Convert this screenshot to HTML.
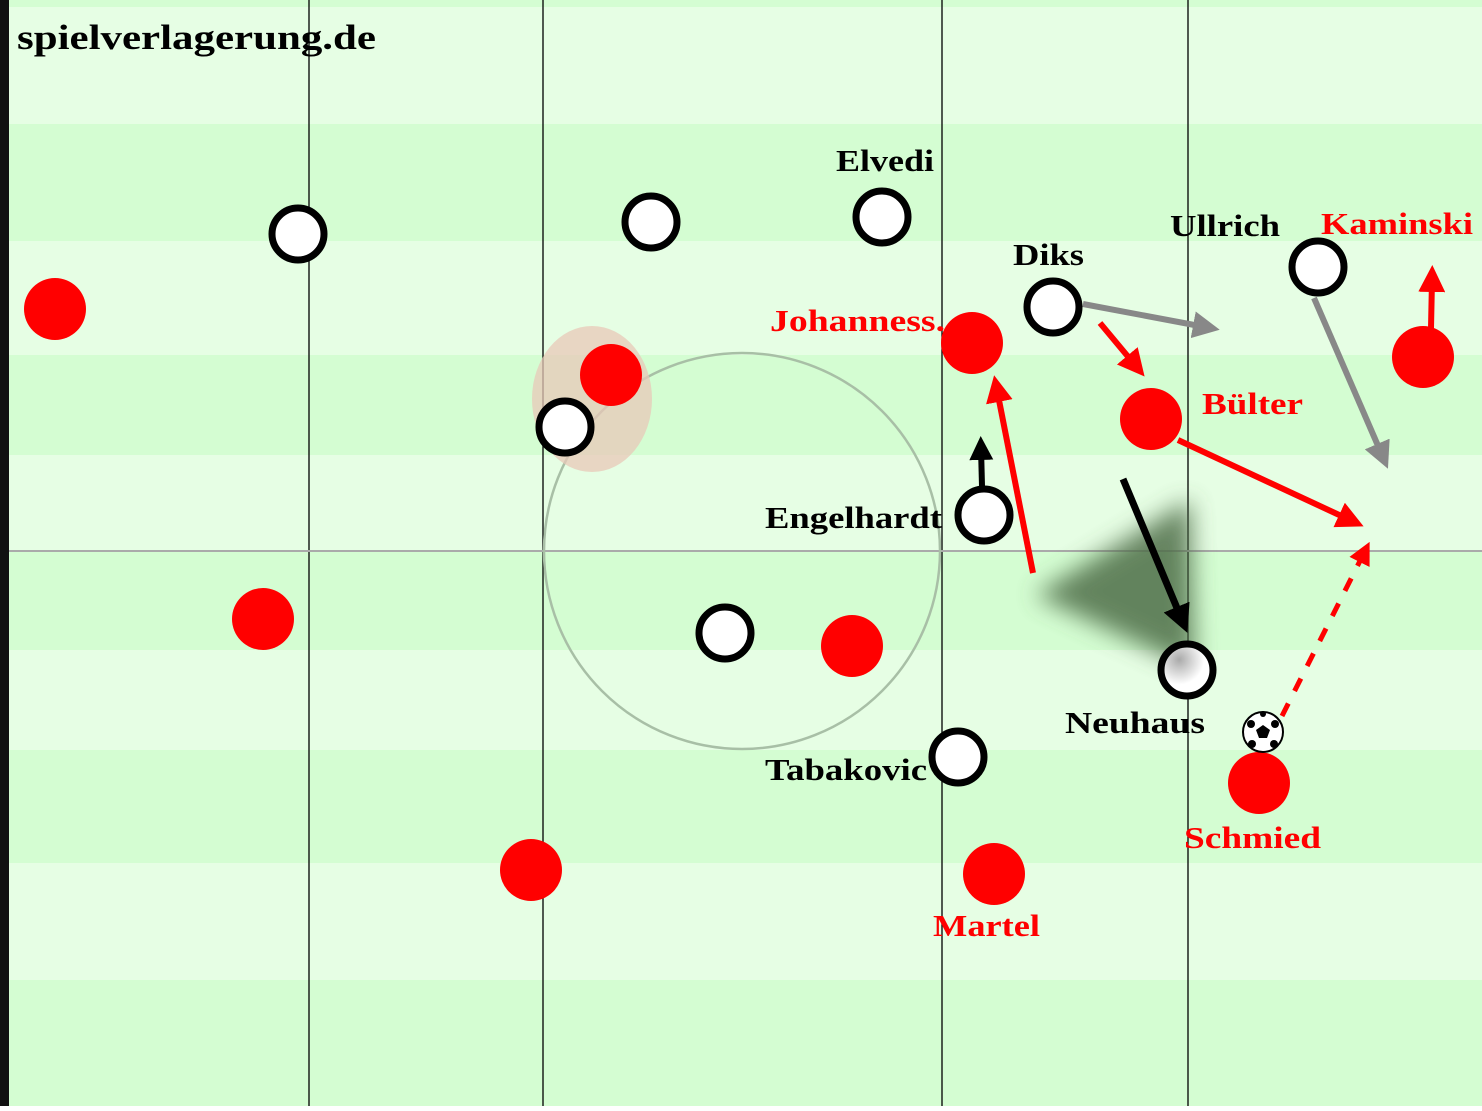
<!DOCTYPE html>
<html><head><meta charset="utf-8"><style>
html,body{margin:0;padding:0}
body{width:1482px;height:1106px;overflow:hidden}
svg text{font-family:"Liberation Serif",serif;font-weight:bold}
</style></head><body>
<svg width="1482" height="1106" viewBox="0 0 1482 1106" xmlns="http://www.w3.org/2000/svg">
<defs>
<filter id="bl" x="-50%" y="-50%" width="200%" height="200%"><feGaussianBlur stdDeviation="12"/></filter>
<radialGradient id="g" cx="0.35" cy="0.3" r="0.8"><stop offset="0" stop-color="#aaa"/><stop offset="0.6" stop-color="#fff"/></radialGradient>
<marker id="ar" markerWidth="4.5" markerHeight="4.5" refX="2" refY="2.25" orient="auto" markerUnits="strokeWidth"><path d="M0,0 L4.5,2.25 L0,4.5 z" fill="red"/></marker>
<marker id="ak" markerWidth="4" markerHeight="4" refX="2" refY="2" orient="auto" markerUnits="strokeWidth"><path d="M0,0 L4,2 L0,4 z" fill="#000"/></marker>
<marker id="ag" markerWidth="4.5" markerHeight="4.5" refX="2" refY="2.25" orient="auto" markerUnits="strokeWidth"><path d="M0,0 L4.5,2.25 L0,4.5 z" fill="#888"/></marker>
</defs>
<rect width="1482" height="1106" fill="#d4fdd2"/>
<g fill="#e6fee4">
<rect y="7" width="1482" height="117"/><rect y="241" width="1482" height="114"/>
<rect y="455" width="1482" height="96"/><rect y="650" width="1482" height="100"/>
<rect y="863" width="1482" height="117"/>
</g>
<rect x="0" y="0" width="9" height="1106" fill="#111"/>
<g stroke="#000" stroke-width="1.3">
<line x1="309" y1="0" x2="309" y2="1106"/><line x1="543" y1="0" x2="543" y2="1106"/>
<line x1="942" y1="0" x2="942" y2="1106"/><line x1="1188" y1="0" x2="1188" y2="1106"/>
</g>
<line x1="9" y1="551" x2="1482" y2="551" stroke="#aaa" stroke-width="2"/>
<circle cx="742" cy="551" r="198" fill="none" stroke="#a8bfa6" stroke-width="2.5"/>
<ellipse cx="592" cy="399" rx="60" ry="73" fill="#e8c8b8" opacity="0.75"/>
<polygon points="1035,595 1190,500 1195,670" fill="#4f6e49" opacity="0.85" filter="url(#bl)"/>
<g fill="#f00">
<circle cx="55" cy="309" r="31"/><circle cx="611" cy="375" r="31"/><circle cx="972" cy="343" r="31"/>
<circle cx="1151" cy="419" r="31"/><circle cx="1423" cy="357" r="31"/><circle cx="263" cy="619" r="31"/>
<circle cx="852" cy="646" r="31"/><circle cx="1259" cy="783" r="31"/><circle cx="531" cy="870" r="31"/>
<circle cx="994" cy="874" r="31"/>
</g>
<g stroke-linecap="butt" fill="none">
<line x1="1033" y1="573" x2="997" y2="390" stroke="red" stroke-width="6" marker-end="url(#ar)"/>
<line x1="1100" y1="323" x2="1135" y2="365" stroke="red" stroke-width="6" marker-end="url(#ar)"/>
<line x1="1178" y1="440" x2="1350" y2="520" stroke="red" stroke-width="6" marker-end="url(#ar)"/>
<line x1="1431" y1="328" x2="1432" y2="280" stroke="red" stroke-width="6" marker-end="url(#ar)"/>
<line x1="1282" y1="716" x2="1364" y2="553" stroke="red" stroke-width="5" stroke-dasharray="14,14" marker-end="url(#ar)"/>
<line x1="1083" y1="304" x2="1205" y2="327" stroke="#888" stroke-width="6" marker-end="url(#ag)"/>
<line x1="1314" y1="298" x2="1382" y2="455" stroke="#888" stroke-width="6" marker-end="url(#ag)"/>
<line x1="1123" y1="479" x2="1182" y2="620" stroke="#000" stroke-width="7" marker-end="url(#ak)"/>
<line x1="982" y1="486" x2="981" y2="448" stroke="#000" stroke-width="6" marker-end="url(#ak)"/>
</g>
<g fill="#fff" stroke="#000" stroke-width="7">
<circle cx="298" cy="234" r="26"/><circle cx="651" cy="222" r="26"/><circle cx="882" cy="217" r="26"/>
<circle cx="1053" cy="307" r="26"/><circle cx="1318" cy="267" r="26"/><circle cx="565" cy="427" r="26"/>
<circle cx="984" cy="515" r="26"/><circle cx="725" cy="633" r="26"/><circle cx="958" cy="757" r="26"/>
<circle cx="1187" cy="670" r="26" fill="url(#g)"/>
</g>
<circle cx="1263" cy="732" r="20" fill="#fff" stroke="#000" stroke-width="2"/>
<g fill="#000"><polygon points="1263,725 1270,730 1267,738 1259,738 1256,730"/><circle cx="1251" cy="724" r="4"/><circle cx="1275" cy="724" r="4"/><circle cx="1252" cy="744" r="4"/><circle cx="1274" cy="744" r="4"/><circle cx="1263" cy="714" r="3"/></g>
<g font-size="31" fill="#000" lengthAdjust="spacingAndGlyphs">
<text x="17" y="49" font-size="35" textLength="359" lengthAdjust="spacingAndGlyphs">spielverlagerung.de</text>
<text x="836" y="171" textLength="98" lengthAdjust="spacingAndGlyphs">Elvedi</text>
<text x="1013" y="265" textLength="71" lengthAdjust="spacingAndGlyphs">Diks</text>
<text x="1170" y="236" textLength="110" lengthAdjust="spacingAndGlyphs">Ullrich</text>
<text x="765" y="528" textLength="177" lengthAdjust="spacingAndGlyphs">Engelhardt</text>
<text x="1065" y="733" textLength="140" lengthAdjust="spacingAndGlyphs">Neuhaus</text>
<text x="765" y="780" textLength="162" lengthAdjust="spacingAndGlyphs">Tabakovic</text>
</g>
<g font-size="31" fill="#f00">
<text x="1321" y="234" textLength="152" lengthAdjust="spacingAndGlyphs">Kaminski</text>
<text x="770" y="331" textLength="175" lengthAdjust="spacingAndGlyphs">Johanness.</text>
<text x="1202" y="414" textLength="101" lengthAdjust="spacingAndGlyphs">Bülter</text>
<text x="1184" y="848" textLength="137" lengthAdjust="spacingAndGlyphs">Schmied</text>
<text x="933" y="936" textLength="107" lengthAdjust="spacingAndGlyphs">Martel</text>
</g>
</svg>
</body></html>
